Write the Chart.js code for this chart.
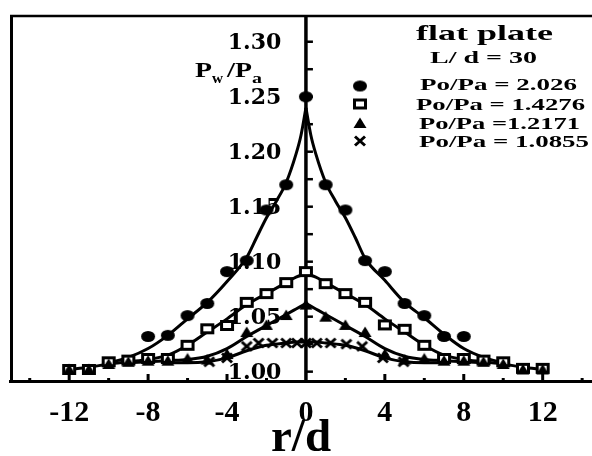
<!DOCTYPE html>
<html>
<head>
<meta charset="utf-8">
<script src="https://cdn.jsdelivr.net/npm/chart.js@4.4.1/dist/chart.umd.min.js"></script>
<style>
  html, body { margin: 0; padding: 0; background: #fff; }
  #c { display: block; }
</style>
</head>
<body>
<canvas id="c" width="592" height="456"></canvas>
<script>
// ---------- data ----------
const seriesNames = ['Po/Pa = 2.026', 'Po/Pa = 1.4276', 'Po/Pa =1.2171', 'Po/Pa = 1.0855'];
const legendTitle = 'flat plate';
const legendSub = 'L/ d = 30';
const xTitle = 'r/d';

const xTicks = [-12, -8, -4, 0, 4, 8, 12];
const xTickMarks = [-14, -12, -10, -8, -6, -4, -2, 2, 4, 6, 8, 10, 12, 14];
const yTicks = [1.00, 1.05, 1.10, 1.15, 1.20, 1.25, 1.30];
const yTickMarks = [1.00, 1.025, 1.05, 1.075, 1.10, 1.125, 1.15, 1.175, 1.20, 1.225, 1.25, 1.275, 1.30];

// markers: Po/Pa = 2.026 (filled circles)
const circleX = [-8, -7, -6, -5, -4, -3, -2, -1, 0, 1, 2, 3, 4, 5, 6, 7, 8];
const circleY = [1.032, 1.033, 1.051, 1.062, 1.091, 1.101, 1.147, 1.170, 1.250, 1.170, 1.147, 1.101, 1.091, 1.062, 1.051, 1.032, 1.032];
// markers: Po/Pa = 1.4276 (open squares)
const squareX = [-12, -11, -10, -9, -8, -7, -6, -5, -4, -3, -2, -1, 0, 1, 2, 3, 4, 5, 6, 7, 8, 9, 10, 11, 12];
const squareY = [1.002, 1.002, 1.009, 1.0105, 1.012, 1.012, 1.024, 1.039, 1.042, 1.063, 1.071, 1.081, 1.091, 1.080, 1.071, 1.063, 1.0425, 1.0385, 1.024, 1.012, 1.012, 1.0105, 1.009, 1.003, 1.003];
// markers: Po/Pa = 1.2171 (filled triangles)
const triX = [-12, -11, -10, -9, -8, -7, -6, -5, -4, -3, -2, -1, 0, 1, 2, 3, 4, 5, 6, 7, 8, 9, 10, 11, 12];
const triY = [1.002, 1.002, 1.007, 1.009, 1.010, 1.010, 1.012, 1.011, 1.016, 1.036, 1.0425, 1.0515, 1.061, 1.050, 1.0425, 1.036, 1.016, 1.011, 1.012, 1.010, 1.010, 1.009, 1.007, 1.002, 1.002];
// markers: Po/Pa = 1.0855 (crosses)
const crossX = [-4.9, -4, -3, -2.4, -1.7, -1.0, -0.45, 0, 0.55, 1.25, 2.05, 2.85, 3.9, 4.95];
const crossY = [1.009, 1.0125, 1.023, 1.026, 1.026, 1.026, 1.026, 1.026, 1.026, 1.026, 1.025, 1.023, 1.0125, 1.009];

// fitted curves
const curveX = [-12, -11, -10, -9, -8, -7, -6, -5, -4, -3, -2.5, -2, -1.5, -1, -0.5, -0.25, 0, 0.25, 0.5, 1, 1.5, 2, 2.5, 3, 4, 5, 6, 7, 8, 9, 10, 11, 12];
const curve1 = [null, null, 1.008, 1.013, 1.021, 1.033, 1.048, 1.063, 1.082, 1.104, 1.122, 1.140, 1.155, 1.172, 1.198, 1.215, 1.240, 1.215, 1.198, 1.172, 1.155, 1.140, 1.122, 1.103, 1.083, 1.063, 1.049, 1.034, 1.021, 1.013, 1.008, null, null];
const curve2 = [1.002, 1.004, 1.007, 1.009, 1.011, 1.015, 1.024, 1.036, 1.048, 1.061, null, 1.071, null, 1.081, 1.086, null, 1.089, null, 1.086, 1.081, null, 1.071, null, 1.061, 1.048, 1.036, 1.024, 1.015, 1.011, 1.009, 1.007, 1.004, 1.002];
const curve3 = [null, null, null, 1.008, 1.009, 1.010, 1.011, 1.014, 1.021, 1.032, null, 1.042, null, 1.052, 1.057, null, 1.062, null, 1.057, 1.052, null, 1.042, null, 1.032, 1.021, 1.014, 1.011, 1.010, 1.009, 1.008, null, null, null];
const curve4 = [null, null, null, null, null, 1.008, 1.008, 1.009, 1.0125, 1.019, null, 1.024, null, 1.026, 1.027, null, 1.027, null, 1.027, 1.026, null, 1.024, null, 1.019, 1.0125, 1.009, 1.008, 1.008, null, null, null, null, null];

// ---------- marker images ----------
function mk(w, h, draw) {
  const c = document.createElement('canvas');
  c.width = w; c.height = h;
  const g = c.getContext('2d');
  g.fillStyle = '#000'; g.strokeStyle = '#000';
  draw(g);
  return c;
}
const imgCircle = mk(16, 13, g => { g.beginPath(); g.ellipse(8, 6.5, 7, 5.5, 0, 0, Math.PI * 2); g.fill(); });
const imgSquare = mk(16, 13, g => { g.fillRect(1, 1, 14, 11); g.fillStyle = '#fff'; g.fillRect(4, 4, 8, 5); });
const imgTri = mk(14, 12, g => { g.beginPath(); g.moveTo(7, 0.5); g.lineTo(13.5, 11); g.lineTo(0.5, 11); g.closePath(); g.fill(); });
const imgCross = mk(14, 12, g => { g.lineWidth = 3; g.beginPath(); g.moveTo(2, 1.5); g.lineTo(12, 10.5); g.moveTo(12, 1.5); g.lineTo(2, 10.5); g.stroke(); });

// ---------- build datasets ----------
const pts = (xs, ys) => xs.map((x, i) => ({x, y: ys[i]})).filter(p => p.y !== null);
const half = (ys, side) => pts(curveX, ys).filter(p => side < 0 ? p.x <= 0 : p.x >= 0);

function markerSet(label, xs, ys, img) {
  return { type: 'scatter', label, data: pts(xs, ys), showLine: false, pointStyle: img, pointRadius: 6, pointHoverRadius: 6 };
}
function curveSet(ys, side) {
  return { type: 'line', data: half(ys, side), borderColor: '#000', borderWidth: 3, pointRadius: 0, pointHoverRadius: 0, fill: false, cubicInterpolationMode: 'monotone' };
}

const datasets = [
  markerSet(seriesNames[3], crossX, crossY, imgCross),
  markerSet(seriesNames[2], triX, triY, imgTri),
  markerSet(seriesNames[1], squareX, squareY, imgSquare),
  markerSet(seriesNames[0], circleX, circleY, imgCircle),
];
[curve1, curve2, curve3, curve4].forEach(c => { datasets.push(curveSet(c, -1)); datasets.push(curveSet(c, 1)); });

// ---------- helpers ----------
const SERIF = '"Liberation Serif", "Times New Roman", serif';
function sText(ctx, txt, x, baseY, font, targetW) {
  ctx.save();
  ctx.font = font;
  const w = ctx.measureText(txt).width;
  ctx.translate(x, baseY);
  ctx.scale(targetW / w, 1);
  ctx.textBaseline = 'alphabetic';
  ctx.textAlign = 'left';
  ctx.fillStyle = '#000';
  ctx.fillText(txt, 0, 0);
  ctx.restore();
}
function seg(ctx, x1, y1, x2, y2) { ctx.beginPath(); ctx.moveTo(x1, y1); ctx.lineTo(x2, y2); ctx.stroke(); }

const deco = {
  id: 'deco',
  beforeDatasetsDraw(chart) {
    const {ctx, chartArea: a, scales: {x, y}} = chart;
    ctx.save();
    ctx.strokeStyle = '#000';
    // frame: left and top
    ctx.lineWidth = 3;
    seg(ctx, a.left + 1.5, a.top, a.left + 1.5, a.bottom);
    ctx.lineWidth = 2.5;
    seg(ctx, a.left, a.top + 1, a.right, a.top + 1);
    // vertical axis at r/d = 0
    const x0 = x.getPixelForValue(0);
    ctx.lineWidth = 3.5;
    seg(ctx, x0, a.top, x0, a.bottom);
    // tick marks on the vertical axis (pointing right)
    ctx.lineWidth = 2.5;
    yTickMarks.forEach(v => { const py = y.getPixelForValue(v); seg(ctx, x0, py, x0 + 7, py); });
    // tick marks on the bottom axis (pointing up)
    ctx.lineWidth = 3;
    xTickMarks.forEach(v => {
      const px = x.getPixelForValue(v);
      const len = (v % 4 === 0) ? 7 : 3;
      seg(ctx, px, a.bottom, px, a.bottom - len);
    });
    // y axis title P_w / P_a
    sText(ctx, 'P', 195, 77, 'bold 22px ' + SERIF, 17);
    sText(ctx, 'w', 212, 83, 'bold 15px ' + SERIF, 11);
    sText(ctx, '/', 227, 77, 'bold 22px ' + SERIF, 8);
    sText(ctx, 'P', 235, 77, 'bold 22px ' + SERIF, 17);
    sText(ctx, 'a', 252, 83, 'bold 15px ' + SERIF, 10);
    ctx.restore();
  },
  afterDatasetsDraw(chart) {
    const {ctx} = chart;
    ctx.save();
    sText(ctx, legendTitle, 416, 40, 'bold 22px ' + SERIF, 137);
    sText(ctx, legendSub, 430, 63, 'bold 17px ' + SERIF, 107);
    const rows = [
      {img: imgCircle, y: 86, base: 90, x: 420, w: 157},
      {img: imgSquare, y: 104, base: 110, x: 416, w: 169},
      {img: imgTri, y: 123, base: 129, x: 419, w: 161},
      {img: imgCross, y: 141, base: 146.5, x: 419, w: 170},
    ];
    rows.forEach((r, i) => {
      ctx.drawImage(r.img, 360 - r.img.width / 2, r.y - r.img.height / 2);
      sText(ctx, seriesNames[i], r.x, r.base, 'bold 17px ' + SERIF, r.w);
    });
    ctx.restore();
  }
};

new Chart(document.getElementById('c'), {
  data: { datasets },
  options: {
    responsive: false,
    animation: false,
    devicePixelRatio: 1,
    layout: { autoPadding: false, padding: { left: 10, top: 15, right: 0, bottom: 0 } },
    plugins: { legend: { display: false }, tooltip: { enabled: false } },
    scales: {
      x: {
        type: 'linear', position: 'bottom', min: -15, max: 14.5,
        afterBuildTicks: s => { s.ticks = xTicks.map(v => ({value: v})); },
        afterFit: s => { s.height = 75; },
        grid: { display: false, drawTicks: false },
        border: { display: true, color: '#000', width: 3 },
        ticks: { color: '#000', padding: 14, maxRotation: 0, autoSkip: false,
                 font: { family: SERIF, weight: 'bold', size: 30 },
                 callback: v => String(v) },
        title: { display: true, text: xTitle, color: '#000',
                 font: { family: SERIF, weight: 'bold', size: 47, lineHeight: 1.0 },
                 padding: { top: 0, bottom: -6 } }
      },
      y: {
        type: 'linear', position: { x: -1.25 }, min: 0.9915, max: 1.3243,
        afterBuildTicks: s => { s.ticks = yTicks.map(v => ({value: v})); },
        grid: { display: false, drawTicks: false },
        border: { display: false },
        ticks: { color: '#000', padding: 0, labelOffset: 2,
                 font: { family: '"DejaVu Serif", serif', weight: 'bold', size: 22 },
                 callback: v => Number(v).toFixed(2) }
      }
    }
  },
  plugins: [deco]
});
</script>
</body>
</html>
